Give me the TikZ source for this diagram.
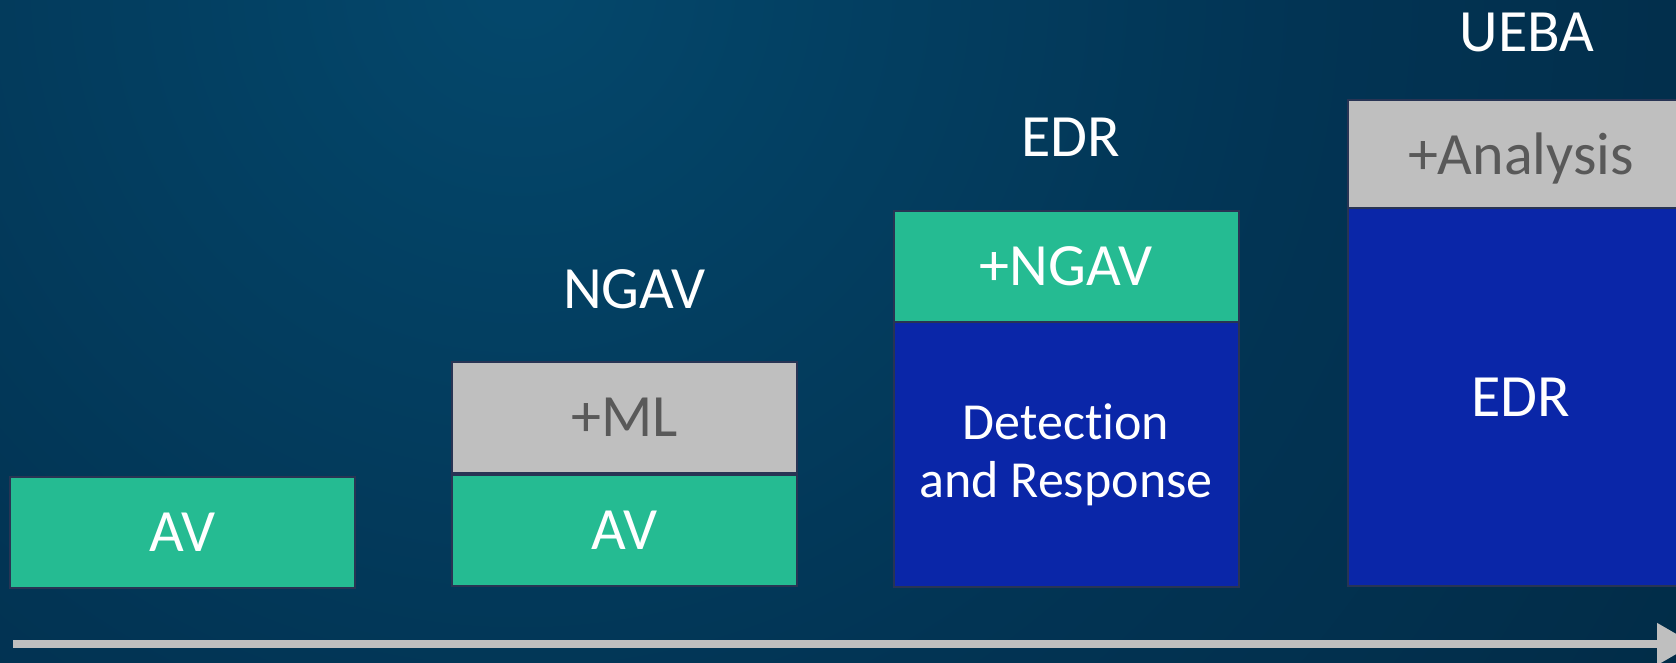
\documentclass[tikz,border=0pt]{standalone}
\usepackage{fontspec}
\setmainfont{Carlito}[Ligatures=NoCommon]
\usetikzlibrary{arrows.meta}
\definecolor{bgin}{RGB}{4,72,108}
\definecolor{bgmid}{RGB}{2,52,84}
\definecolor{bglow}{RGB}{1,38,62}
\definecolor{bgout}{RGB}{3,28,46}
\definecolor{avgreen}{RGB}{37,187,146}
\definecolor{mlgray}{RGB}{191,191,191}
\definecolor{edrblue}{RGB}{10,38,168}
\definecolor{graytext}{RGB}{89,89,89}
\definecolor{boxline}{RGB}{40,52,84}
\pgfdeclareradialshading{bgglow}{\pgfpoint{0bp}{0bp}}{color(0bp)=(bgin); color(14bp)=(bgmid); color(32bp)=(bglow); color(50bp)=(bgout)}
\begin{document}
\begin{tikzpicture}[x=0.5pt,y=-0.5pt,
  box/.style={draw=boxline, line width=1pt, minimum width=172.5pt, inner sep=0pt,
    font=\fontsize{30}{36}\selectfont, text=white},
  greenbox/.style={box, fill=avgreen},
  graybox/.style={box, fill=mlgray, text=graytext},
  bluebox/.style={box, fill=edrblue},
  title/.style={anchor=base, inner sep=0pt, text=white, font=\fontsize{30}{36}\selectfont},
  timeline/.style={line width=4pt, draw=mlgray, -{Triangle[length=18.5pt,width=20pt]}}]
\useasboundingbox (0,0) rectangle (1676,663);
\clip (0,0) rectangle (1676,663);
\shade[shading=bgglow] (520,-20) circle (1400);

% column 1
\node[greenbox, minimum height=55.5pt] (av1) at (182.5,532.5) {AV};

% column 2
\node[graybox, minimum height=55.5pt] (ml) at (624.5,417.5) {+ML};
\node[greenbox, minimum height=55.5pt] (av2) at (624.5,530.5) {AV};
\node[title] (ngavt) at (634.5,308) {NGAV};

% column 3
\node[greenbox, minimum height=55.5pt] (ngav) at (1066,266.5) {+NGAV};
\node[bluebox, minimum height=132.5pt, align=center, font=\fontsize{26}{29}\selectfont] (det) at (1066,454.5) {Detection\\and Response};
\node[title] (edrt) at (1070.5,157) {EDR};

% column 4
\node[graybox, minimum width=173pt, minimum height=54pt, text depth=0pt] (ana) at (1521,154) {+Analysis};
\node[bluebox, minimum width=173pt, minimum height=189pt] (edr) at (1521,397) {EDR};
\node[title] (uebat) at (1527,52) {UEBA};

% timeline arrow
\coordinate (t0) at (13,644);
\coordinate (t1) at (1694,644);
\draw[timeline] (t0) -- (t1);
\end{tikzpicture}
\end{document}
